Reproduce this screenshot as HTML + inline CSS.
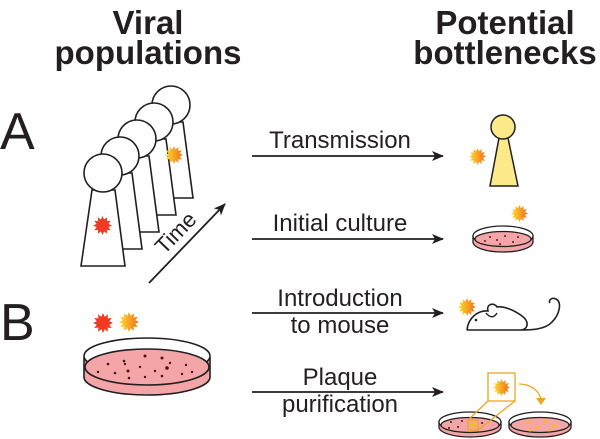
<!DOCTYPE html>
<html><head><meta charset="utf-8"><style>
html,body{margin:0;padding:0;background:#fff;}
svg{display:block;}
text{font-family:"Liberation Sans",Arial,sans-serif;fill:#231f20;}
</style></head><body>
<svg width="600" height="439" viewBox="0 0 600 439" xmlns="http://www.w3.org/2000/svg">
<defs>
<linearGradient id="sun" x1="0" y1="0" x2="1" y2="0">
<stop offset="0" stop-color="#ffe030"/><stop offset="1" stop-color="#f26a1b"/>
</linearGradient>
<marker id="ah" viewBox="0 0 12 10" refX="11" refY="5" markerWidth="12" markerHeight="10" markerUnits="userSpaceOnUse" orient="auto">
<path d="M0,0 L12,5 L0,10 L3,5 Z" fill="#231f20"/>
</marker>
<symbol id="star" viewBox="-10 -10 20 20">
<polygon points="0,-10 1.7,-6.3 5,-8.7 4.6,-4.6 8.7,-5 6.3,-1.7 10,0 6.3,1.7 8.7,5 4.6,4.6 5,8.7 1.7,6.3 0,10 -1.7,6.3 -5,8.7 -4.6,4.6 -8.7,5 -6.3,1.7 -10,0 -6.3,-1.7 -8.7,-5 -4.6,-4.6 -5,-8.7 -1.7,-6.3"/>
</symbol>
</defs>

<text x="148" y="34" font-size="33" font-weight="bold" text-anchor="middle">Viral</text>
<text x="148" y="64" font-size="33" font-weight="bold" text-anchor="middle">populations</text>
<text x="505" y="34" font-size="33" font-weight="bold" text-anchor="middle">Potential</text>
<text x="505" y="64" font-size="33" font-weight="bold" text-anchor="middle">bottlenecks</text>
<text x="0" y="149" font-size="52">A</text>
<text x="0" y="340" font-size="52">B</text>

<g stroke="#231f20" stroke-width="1.6" fill="#fff">
<g transform="translate(68,-68)"><path d="M92,190 L115,190 L125,266 L81,266 Z"/><circle cx="103" cy="173" r="19"/></g>
<g transform="translate(51,-51)"><path d="M92,190 L115,190 L125,266 L81,266 Z"/><circle cx="103" cy="173" r="19"/></g>
<g transform="translate(34,-34)"><path d="M92,190 L115,190 L125,266 L81,266 Z"/><circle cx="103" cy="173" r="19"/></g>
<g transform="translate(17,-17)"><path d="M92,190 L115,190 L125,266 L81,266 Z"/><circle cx="103" cy="173" r="19"/></g>
<g><path d="M92,190 L115,190 L125,266 L81,266 Z"/><circle cx="103" cy="173" r="19"/></g>
</g>
<use href="#star" x="165" y="146" width="18" height="18" fill="url(#sun)"/>
<use href="#star" x="93" y="216" width="19" height="19" fill="#ef3b24"/>

<line x1="149" y1="283" x2="225" y2="204" stroke="#231f20" stroke-width="1.8" marker-end="url(#ah)"/>
<text x="181" y="238" font-size="22" text-anchor="middle" transform="rotate(-46 181 238)">Time</text>

<g stroke="#231f20" stroke-width="1.8" marker-end="url(#ah)">
<line x1="252" y1="156" x2="443" y2="156"/>
<line x1="252" y1="239" x2="443" y2="239"/>
<line x1="252" y1="313" x2="443" y2="313"/>
<line x1="252" y1="392" x2="443" y2="392"/>
</g>
<g font-size="24" text-anchor="middle">
<text x="340" y="148">Transmission</text>
<text x="340" y="231">Initial culture</text>
<text x="340" y="306">Introduction</text>
<text x="340" y="333">to mouse</text>
<text x="340" y="385">Plaque</text>
<text x="340" y="412">purification</text>
</g>

<g stroke="#231f20" stroke-width="1.5" fill="#fbe98a">
<path d="M499,138 L508,138 L518,186 L490,186 Z"/>
<circle cx="503" cy="127" r="12"/>
</g>
<use href="#star" x="469" y="148" width="17" height="17" fill="url(#sun)"/>

<g stroke="#231f20" stroke-width="1.3">
<path d="M473,236 L473,242 A30,10 0 0 0 533,242 L533,236 Z" fill="#f3a5a8"/>
<ellipse cx="503" cy="236" rx="30" ry="10" fill="#fff"/>
<ellipse cx="503" cy="239" rx="28" ry="7.5" fill="#f3a5a8"/>
</g>
<g fill="#5a1a1a"><circle cx="490" cy="237" r="1"/><circle cx="497" cy="240" r="1"/><circle cx="505" cy="236" r="1"/><circle cx="513" cy="242" r="1"/><circle cx="518" cy="237" r="1"/><circle cx="500" cy="244" r="1"/><circle cx="485" cy="241" r="1"/></g>
<use href="#star" x="511" y="205" width="17" height="17" fill="url(#sun)"/>

<g stroke="#231f20" stroke-width="1.6">
<path d="M84,358 L84,377 A63,18 0 0 0 210,377 L210,358 Z" fill="#f3a5a8"/>
<ellipse cx="147" cy="356" rx="63" ry="18" fill="#fff"/>
<ellipse cx="147" cy="367" rx="62" ry="18" fill="#f3a5a8"/>
</g>
<g fill="#4a1515">
<circle cx="108" cy="364" r="1.3"/><circle cx="124" cy="361" r="1.3"/><circle cx="145" cy="356" r="1.5"/><circle cx="162" cy="358" r="1.5"/><circle cx="170" cy="363" r="1.2"/><circle cx="186" cy="365" r="1.2"/><circle cx="98" cy="372" r="1.2"/><circle cx="115" cy="373" r="1.3"/><circle cx="128" cy="371" r="1.5"/><circle cx="140" cy="367" r="1.2"/><circle cx="155" cy="371" r="1.2"/><circle cx="167" cy="368" r="1.8"/><circle cx="182" cy="374" r="1.2"/><circle cx="192" cy="372" r="1.2"/><circle cx="129" cy="378" r="1.3"/><circle cx="145" cy="377" r="1.2"/><circle cx="162" cy="376" r="1.3"/><circle cx="125" cy="364" r="1.2"/>
</g>
<use href="#star" x="93" y="313" width="20" height="20" fill="#ef3b24"/>
<use href="#star" x="119" y="312" width="20" height="20" fill="url(#sun)"/>

<use href="#star" x="458" y="298" width="18" height="18" fill="url(#sun)"/>
<path d="M467,330 C468,318 478,310 488,311 C486,304 494,302 497,307 C504,306 514,310 522,316 C530,322 528,330 520,330 C530,330 545,330 552,322 C560,314 562,302 556,299 C552,297 548,300 550,303" fill="none" stroke="#231f20" stroke-width="1.6"/>
<path d="M467,330 L520,330" stroke="#231f20" stroke-width="1.6"/>
<path d="M486,313 C490,318 494,318 497,313" fill="none" stroke="#231f20" stroke-width="1.4"/>
<circle cx="476" cy="320" r="1.3" fill="#231f20"/>

<g stroke="#231f20" stroke-width="1.3">
<path d="M439,422 L439,427 A31,10 0 0 0 501,427 L501,422 Z" fill="#f3a5a8"/>
<ellipse cx="470" cy="422" rx="31" ry="10" fill="#fff"/>
<ellipse cx="470" cy="425" rx="29" ry="7.5" fill="#f3a5a8"/>
<path d="M509,422 L509,427 A31,10 0 0 0 571,427 L571,422 Z" fill="#f3a5a8"/>
<ellipse cx="540" cy="422" rx="31" ry="10" fill="#fff"/>
<ellipse cx="540" cy="425" rx="29" ry="7.5" fill="#f3a5a8"/>
</g>
<g fill="#4a1515"><circle cx="451" cy="422" r="1"/><circle cx="458" cy="427" r="1"/><circle cx="462" cy="421" r="1"/><circle cx="482" cy="423" r="1"/><circle cx="449" cy="428" r="1"/></g>
<g fill="#f7b733"><circle cx="528" cy="422" r="2"/><circle cx="537" cy="427" r="2"/><circle cx="546" cy="421" r="2"/><circle cx="554" cy="426" r="2"/><circle cx="530" cy="430" r="1.6"/><circle cx="549" cy="430" r="1.6"/></g>
<g stroke="#f2a51b" stroke-width="1.3" fill="none">
<rect x="468" y="420" width="10" height="10"/>
<rect x="488" y="373" width="27" height="28"/>
<line x1="468" y1="420" x2="488" y2="401"/>
<line x1="478" y1="430" x2="515" y2="401"/>
<path d="M519,384 C532,384 540,392 541,400"/>
</g>
<path d="M536,398 L546,398 L541,405 Z" fill="#f2a51b"/>
<use href="#star" x="493" y="379" width="17" height="17" fill="url(#sun)"/>
<use href="#star" x="469" y="421" width="8" height="8" fill="#f7b733"/>
</svg>
</body></html>
